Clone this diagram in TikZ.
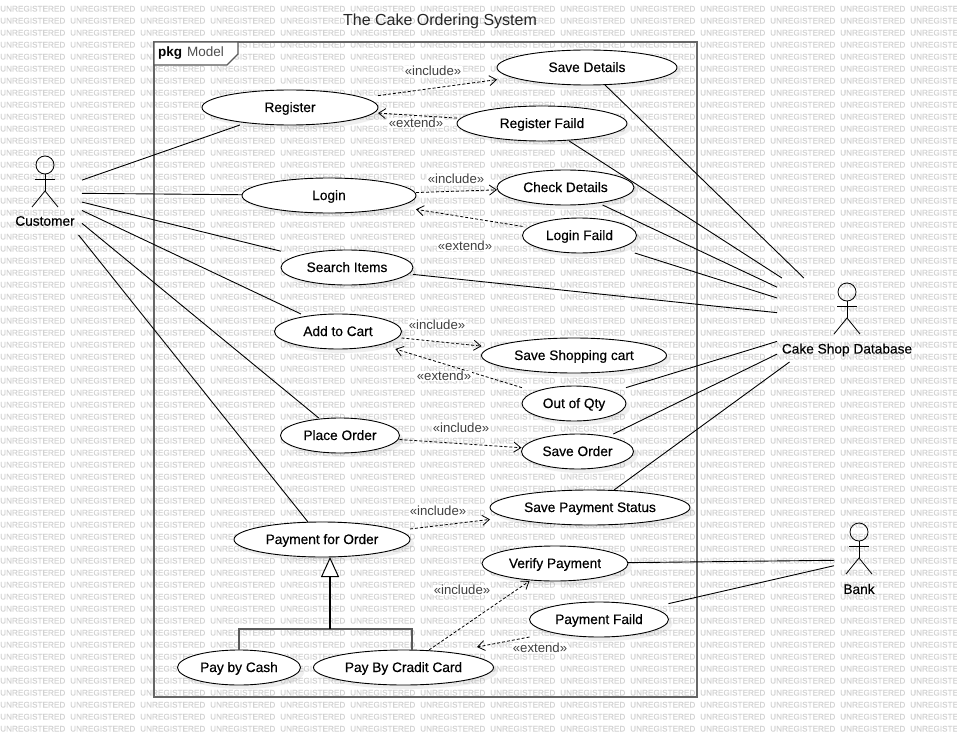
\documentclass[tikz,border=0pt]{standalone}
\usepackage{fontspec}
\setmainfont{Liberation Sans}
\newfontfamily\casefont[FakeBold=0.4]{Liberation Sans}
\newfontfamily\stampfont[FakeBold=0.25]{Liberation Sans}
\usetikzlibrary{shapes.geometric, arrows.meta, positioning, fit, shadows}
\tikzset{
    usecase/.style={ellipse, draw=black, line width=0.9pt, fill=white, minimum height=35pt, inner sep=0pt, outer sep=0pt, align=center,
        font=\casefont\fontsize{13.7}{15}\selectfont, text height=11pt, text depth=2pt,
        drop shadow={shadow xshift=4pt, shadow yshift=-4pt, opacity=0.13},
        append after command={node [bbox, fit=(\tikzlastnode), name=\tikzlastnode-box] {}}},
    bbox/.style={rectangle, inner sep=0pt, outer sep=0pt},
    actorbox/.style={rectangle, minimum height=84pt, inner sep=0pt, outer sep=0pt},
    actorname/.style={font=\casefont\fontsize{13.7}{15}\selectfont, inner sep=0pt},
    stereo/.style={font=\fontsize{13.2}{15}\selectfont, text=black!75, fill=white, inner sep=0.5pt},
    stamp/.style={font=\stampfont\fontsize{8.2}{9}\selectfont, text=black!18, anchor=west, inner sep=0pt},
    assoc/.style={line width=0.9pt},
    depend/.style={-{Straight Barb[length=7pt, width=10pt]}, line width=0.8pt, dash pattern=on 3pt off 2pt},
    genline/.style={line width=1.4pt, draw=black!65},
    stickman/.pic={
        \draw [line width=0.8pt] (0,-28) circle [radius=9pt];
        \draw [line width=0.8pt] (-10,-14) -- (10,-14);
        \draw [line width=0.8pt] (0,-19) -- (0,-2);
        \draw [line width=0.8pt] (-13,14) -- (0,-2) -- (13,14);
    }
}
\begin{document}
\begin{tikzpicture}[x=1pt, y=-1pt]
    \useasboundingbox (0,0) rectangle (957,738);

    % --- Watermark ---
    \begin{scope}
        \clip (0,0) rectangle (957,738);
        \foreach \r in {0,...,60}
            \foreach \c in {0,...,13}
                \node (stamp\r-\c) [stamp] at ({70*\c},{8.7+12*\r}) {UNREGISTERED};
    \end{scope}

    \node (Title) [font=\fontsize{16}{18}\selectfont, text=black!85, inner sep=0pt] at (440,21) {The Cake Ordering System};

    % --- Package frame ---
    \draw [line width=1.6pt, draw=black!60] (154,42) rectangle (697,697);
    \draw [line width=1.2pt, draw=black!65, fill=white] (154,42) -- (238,42) -- (238,54) -- (227,65) -- (154,65) -- cycle;
    \node (PkgLabel) [anchor=west, inner sep=0pt, font=\fontsize{13.5}{15}\selectfont] at (158,53) {\textbf{pkg}\hspace{5pt}\textcolor{black!70}{Model}};

    % --- Actors ---
    \node (Customer) [actorbox, minimum width=74pt] at (45,193) {};
    \pic at (Customer) {stickman};
    \node (CustomerName) [actorname, yshift=-28pt] at (Customer) {Customer};

    \node (Database) [actorbox, minimum width=140pt] at (847,320) {};
    \pic at (Database) {stickman};
    \node (DatabaseName) [actorname, yshift=-30pt] at (Database) {Cake Shop Database};

    \node (Bank) [actorbox, minimum width=50pt] at (859,560) {};
    \pic at (Bank) {stickman};
    \node (BankName) [actorname, yshift=-29pt] at (Bank) {Bank};

    % --- Left column ---
    \node (Register) [usecase, minimum width=176pt] at (290,107.5) {Register};
    \node (Login) [usecase, minimum width=174pt, below=53pt of Register, xshift=39pt] {Login};
    \node (Search) [usecase, minimum width=132pt, below=37pt of Login, xshift=18pt] {Search Items};
    \node (AddCart) [usecase, minimum width=127pt, below=29pt of Search, xshift=-9pt] {Add to Cart};
    \node (PlaceOrder) [usecase, minimum width=119pt, below=69pt of AddCart, xshift=2pt] {Place Order};
    \node (PayOrder) [usecase, minimum width=176pt, below=69pt of PlaceOrder, xshift=-18pt] {Payment for Order};
    \node (PayCash) [usecase, minimum width=123pt, below=93pt of PayOrder, xshift=-83pt] {Pay by Cash};
    \node (PayCard) [usecase, minimum width=180pt, right=13pt of PayCash] {Pay By Cradit Card};

    % --- Right column ---
    \node (SaveDetails) [usecase, minimum width=180pt, right=119pt of Register, yshift=40pt] {Save Details};
    \node (RegFail) [usecase, minimum width=170pt, below=21pt of SaveDetails, xshift=-45pt] {Register Faild};
    \node (CheckDetails) [usecase, minimum width=137pt, right=81pt of Login, yshift=8pt] {Check Details};
    \node (LoginFail) [usecase, minimum width=114pt, below=13pt of CheckDetails, xshift=14pt] {Login Faild};
    \node (SaveCart) [usecase, minimum width=185pt, right=80pt of AddCart, yshift=-24pt] {Save Shopping cart};
    \node (OutQty) [usecase, minimum width=104pt, below=13pt of SaveCart] {Out of Qty};
    \node (SaveOrder) [usecase, minimum width=112pt, right=122pt of PlaceOrder, yshift=-16pt] {Save Order};
    \node (SavePay) [usecase, minimum width=200pt, right=80pt of PayOrder, yshift=32pt] {Save Payment Status};
    \node (Verify) [usecase, minimum width=146pt, below=21pt of SavePay, xshift=-35pt] {Verify Payment};
    \node (PayFail) [usecase, minimum width=139pt, below=21pt of Verify, xshift=44pt] {Payment Faild};

    % --- Customer lines ---
    \draw [assoc] (Customer) -- (Register-box);
    \draw [assoc] (Customer) -- (Login-box);
    \draw [assoc] (Customer) -- (Search-box);
    \draw [assoc] (Customer) -- (AddCart-box);
    \draw [assoc] (Customer) -- (PlaceOrder-box);
    \draw [assoc] (Customer) -- (PayOrder-box);

    % --- Database lines ---
    \draw [assoc] (SaveDetails-box) -- (Database);
    \draw [assoc] (RegFail-box) -- (Database);
    \draw [assoc] (CheckDetails-box) -- (Database);
    \draw [assoc] (LoginFail-box) -- (Database);
    \draw [assoc] (Search-box) -- (Database);
    \draw [assoc] (OutQty-box) -- (Database);
    \draw [assoc] (SaveOrder-box) -- (Database);
    \draw [assoc] (SavePay-box) -- (Database);

    % --- Bank lines ---
    \draw [assoc] (Verify-box) -- (Bank);
    \draw [assoc] (PayFail-box) -- (Bank);

    % --- Include / extend ---
    \draw [depend] (Register-box) -- (SaveDetails-box);
    \draw [depend] (RegFail-box) -- (Register-box);
    \draw [depend] (Login-box) -- (CheckDetails-box);
    \draw [depend] (LoginFail-box) -- (Login-box);
    \draw [depend] (AddCart-box) -- (SaveCart-box);
    \draw [depend] (OutQty-box) -- (AddCart-box);
    \draw [depend] (PlaceOrder-box) -- (SaveOrder-box);
    \draw [depend] (PayOrder-box) -- (SavePay-box);
    \draw [depend] (PayCard-box) -- (Verify-box);
    \coordinate (CardTip) at (477,647);
    \draw [depend] (PayFail-box.south west) -- (CardTip);

    \node (inc1) [stereo] at (433,71) {«include»};
    \node (ext1) [stereo] at (416,123) {«extend»};
    \node (inc2) [stereo] at (456,179) {«include»};
    \node (ext2) [stereo] at (465,246) {«extend»};
    \node (inc3) [stereo] at (437,325) {«include»};
    \node (ext3) [stereo] at (444,376) {«extend»};
    \node (inc4) [stereo] at (461,428) {«include»};
    \node (inc5) [stereo] at (438,511) {«include»};
    \node (inc6) [stereo] at (462,590) {«include»};
    \node (ext4) [stereo] at (540,648) {«extend»};

    % --- Generalization ---
    \coordinate (GenJoin) at (330,629);
    \coordinate (GenRight) at (412,629);
    \draw [genline] (PayCash-box.north) |- (GenRight) -- (GenRight |- PayCard-box.north);
    \draw [line width=1.4pt, -{Triangle[open, length=20pt, width=18pt, line width=1pt, fill=white]}] (GenJoin) -- (GenJoin |- PayOrder-box.south);
\end{tikzpicture}
\end{document}
